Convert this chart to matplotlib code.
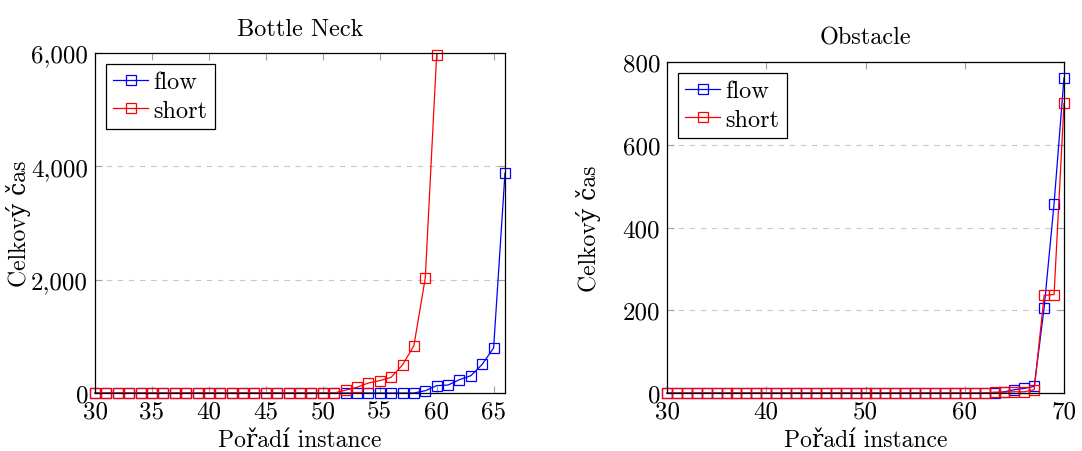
import matplotlib.pyplot as plt
import numpy as np
from matplotlib.ticker import FuncFormatter

plt.rcParams['font.family'] = ['cmr10', 'DejaVu Serif']
plt.rcParams['mathtext.fontset'] = 'cm'
plt.rcParams['axes.unicode_minus'] = False

# Bottle Neck data
bn_x = list(range(30, 67))
bn_flow = [0] * 29 + [40, 130, 140, 235, 305, 506, 795, 3880]
bn_short_x = list(range(30, 61))
bn_short = [0] * 22 + [50, 100, 176, 218, 277, 494, 835, 2030, 5970]

# Obstacle data
ob_x = list(range(30, 71))
ob_flow = [0] * 34 + [3, 8, 11, 16, 206, 458, 762]
ob_short = [0] * 33 + [2, 2, 3, 3, 8, 236, 238, 700]

fig = plt.figure(figsize=(10.82, 4.52), dpi=100)
ax1 = fig.add_axes([95 / 1082, 1 - 394 / 452, 410 / 1082, 340 / 452])
ax2 = fig.add_axes([667 / 1082, 1 - 394 / 452, 397 / 1082, 331 / 452])


def style(ax, xticks, yticks, xlim, ylim, title, ylab_x):
    ax.set_xlim(*xlim)
    ax.set_ylim(*ylim)
    ax.set_xticks(xticks)
    ax.set_yticks(yticks)
    ax.yaxis.set_major_formatter(FuncFormatter(lambda v, p: f'{v:,.0f}'))
    ax.tick_params(direction='in', length=5, width=0.8, color='#a0a0a0',
                   top=True, right=True, labelsize=18, pad=5)
    ax.grid(axis='y', linestyle=(0, (5, 5)), color='#c8c8c8', linewidth=0.8)
    for s in ax.spines.values():
        s.set_linewidth(0.9)
    ax.set_title(title, fontsize=17.5, pad=13)
    ax.set_xlabel('Pořadí instance', fontsize=17, labelpad=5)
    ax.set_ylabel('Celkový čas', fontsize=17)
    ax.yaxis.set_label_coords(ylab_x, 0.5)


ax1.plot(bn_x, bn_flow, color='blue', marker='s', markersize=7, mfc='none',
         mew=0.9, lw=0.9, label='flow', clip_on=False)
ax1.plot(bn_short_x, bn_short, color='red', marker='s', markersize=7, mfc='none',
         mew=0.9, lw=0.9, label='short', clip_on=False)
style(ax1, range(30, 66, 5), range(0, 6001, 2000), (30, 66), (0, 6000),
      'Bottle Neck', (31 - 95) / 410)

ax2.plot(ob_x, ob_flow, color='blue', marker='s', markersize=6.5, mfc='none',
         mew=0.9, lw=0.9, label='flow', clip_on=False)
ax2.plot(ob_x, ob_short, color='red', marker='s', markersize=6.5, mfc='none',
         mew=0.9, lw=0.9, label='short', clip_on=False)
style(ax2, range(30, 71, 10), range(0, 801, 200), (30, 70), (0, 800),
      'Obstacle', (601 - 667) / 397)

for ax in (ax1, ax2):
    leg = ax.legend(loc='upper left', fontsize=17.5, fancybox=False, edgecolor='black',
                    framealpha=1, borderpad=0.3, handlelength=1.45, handletextpad=0.2,
                    labelspacing=0.25, borderaxespad=0.45)
    leg.get_frame().set_linewidth(0.9)

fig.savefig('out.png', dpi=100)
